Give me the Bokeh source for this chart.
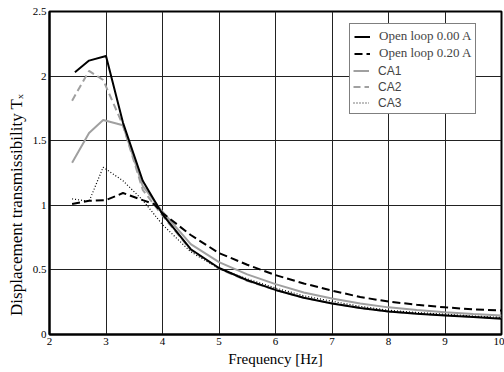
from bokeh.plotting import figure
from bokeh.models import Legend, LegendItem, FixedTicker, Range1d
from bokeh.embed import file_html
from bokeh.resources import INLINE

# ---- data ----
f_ol0 = [2.45, 2.7, 3.0, 3.3, 3.65, 4.0, 4.5, 5.0, 5.5, 6.0, 6.5, 7.0, 7.5, 8.0, 8.5, 9.0, 9.5, 10.0]
t_ol0 = [2.03, 2.12, 2.155, 1.64, 1.19, 0.93, 0.66, 0.515, 0.42, 0.345, 0.285, 0.24, 0.205, 0.178, 0.16, 0.148, 0.135, 0.122]

f_ol20 = [2.4, 2.7, 3.0, 3.3, 3.65, 3.85, 4.0, 4.5, 5.0, 5.5, 6.0, 6.5, 7.0, 7.5, 8.0, 8.5, 9.0, 9.5, 10.0]
t_ol20 = [1.01, 1.035, 1.04, 1.095, 1.04, 1.01, 0.94, 0.77, 0.63, 0.54, 0.46, 0.395, 0.34, 0.29, 0.255, 0.23, 0.21, 0.195, 0.185]

f_ca = [2.4, 2.7, 2.95, 3.3, 3.65, 4.0, 4.5, 5.0, 5.5, 6.0, 6.5, 7.0, 7.5, 8.0, 8.5, 9.0, 9.5, 10.0]
t_ca1 = [1.33, 1.56, 1.66, 1.62, 1.15, 0.95, 0.70, 0.56, 0.465, 0.39, 0.325, 0.278, 0.24, 0.21, 0.19, 0.172, 0.158, 0.147]
t_ca2 = [1.81, 2.04, 1.97, 1.62, 1.12, 0.92, 0.655, 0.51, 0.415, 0.345, 0.285, 0.242, 0.205, 0.178, 0.162, 0.15, 0.138, 0.128]
t_ca3 = [1.05, 1.03, 1.295, 1.19, 1.04, 0.85, 0.64, 0.51, 0.43, 0.36, 0.30, 0.257, 0.218, 0.188, 0.17, 0.157, 0.143, 0.132]

x_ticks = [2, 3, 4, 5, 6, 7, 8, 9, 10]
y_ticks = [0, 0.5, 1, 1.5, 2, 2.5]
y_tick_labels = ["0", "0.5", "1", "1.5", "2", "2.5"]

labels = ["Open loop 0.00 A", "Open loop 0.20 A", "CA1", "CA2", "CA3"]

SERIF = "Liberation Serif"
SANS = "Liberation Sans"
GRAY = "#a0a0a0"

p = figure(width=504, height=372, output_backend="svg", toolbar_location=None,
           x_range=Range1d(2, 10), y_range=Range1d(0, 2.5))
p.min_border_left = 49
p.min_border_right = 3
p.min_border_top = 11
p.min_border_bottom = 38

p.outline_line_color = "black"
p.outline_line_width = 2
p.background_fill_color = "white"
p.border_fill_color = "white"

p.xaxis.ticker = FixedTicker(ticks=x_ticks)
p.yaxis.ticker = FixedTicker(ticks=y_ticks)
p.yaxis.major_label_overrides = {v: s for v, s in zip(y_ticks, y_tick_labels)}
for ax in (p.xaxis, p.yaxis):
    ax.axis_line_color = "black"
    ax.axis_line_width = 2
    ax.major_tick_in = 0
    ax.major_tick_out = 0
    ax.minor_tick_in = 0
    ax.minor_tick_out = 0
    ax.major_label_text_font = SERIF
    ax.major_label_text_font_size = "11px"
    ax.major_label_text_color = "black"
    ax.axis_label_text_font = SERIF
    ax.axis_label_text_font_style = "normal"
    ax.axis_label_text_color = "black"
p.xaxis.major_label_standoff = 3
p.yaxis.major_label_standoff = 3
p.xaxis.axis_label = "Frequency [Hz]"
p.xaxis.axis_label_text_font_size = "15px"
p.xaxis.axis_label_standoff = 3
# trailing no-break spaces push the (bottom-to-top) label lower, as in the reference
p.yaxis.axis_label = "Displacement transmissibility  T\u2093" + "\u00a0" * 14
p.yaxis.axis_label_text_font_size = "17px"
p.yaxis.axis_label_standoff = 4

p.xgrid.ticker = FixedTicker(ticks=x_ticks)
p.ygrid.ticker = FixedTicker(ticks=y_ticks)
for g in (p.xgrid, p.ygrid):
    g.grid_line_color = "#222222"
    g.grid_line_width = 1

r_ca1 = p.line(f_ca, t_ca1, line_color=GRAY, line_width=2)
r_ca2 = p.line(f_ca, t_ca2, line_color=GRAY, line_width=2, line_dash="7 4")
r_ol0 = p.line(f_ol0, t_ol0, line_color="black", line_width=2)
r_ol20 = p.line(f_ol20, t_ol20, line_color="black", line_width=2, line_dash="8 4")
r_ca3 = p.line(f_ca, t_ca3, line_color="black", line_width=1.2, line_dash="1 2")
ghost = p.line(f_ca, t_ca3, line_alpha=0)

def style(leg):
    leg.location = (300, 220)
    leg.padding = 4
    leg.spacing = 1
    leg.glyph_height = 15
    leg.label_height = 15
    leg.glyph_width = 16
    leg.label_standoff = 9
    leg.margin = 0

leg1 = Legend(items=[LegendItem(label=labels[0], renderers=[r_ol0]),
                     LegendItem(label=labels[1], renderers=[r_ol20]),
                     LegendItem(label=" ", renderers=[ghost]),
                     LegendItem(label=" ", renderers=[ghost]),
                     LegendItem(label=" ", renderers=[ghost])])
style(leg1)
leg1.label_text_font = SERIF
leg1.label_text_font_size = "13px"
leg1.border_line_color = "black"
leg1.border_line_width = 1
leg1.background_fill_color = "white"
leg1.background_fill_alpha = 1

leg2 = Legend(items=[LegendItem(label=labels[2], renderers=[r_ca1]),
                     LegendItem(label=labels[3], renderers=[r_ca2]),
                     LegendItem(label=labels[4], renderers=[r_ca3])])
style(leg2)
leg2.label_text_font = SANS
leg2.label_text_font_size = "12px"
leg2.border_line_alpha = 0
leg2.background_fill_alpha = 0

p.add_layout(leg1)
p.add_layout(leg2)

open("out.html", "w").write(file_html(p, INLINE))
